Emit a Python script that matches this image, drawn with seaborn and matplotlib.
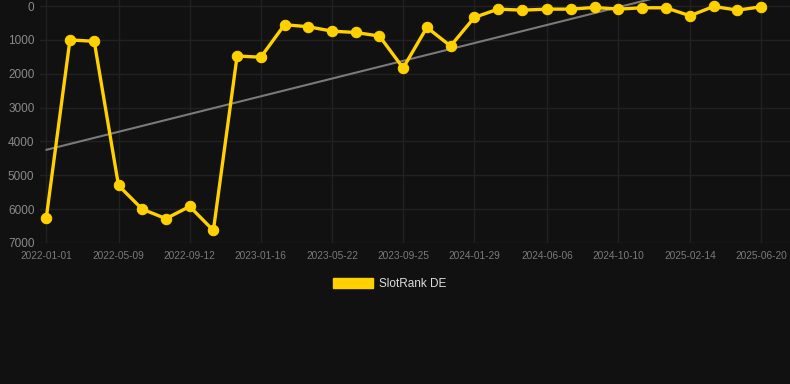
import pandas as pd
import numpy as np
import matplotlib
matplotlib.use("Agg")
import matplotlib.pyplot as plt
import matplotlib.dates as mdates
from matplotlib.patches import Patch
import seaborn as sns

# data
dates = ["2022-01-01", "2022-02-12", "2022-03-27", "2022-05-09", "2022-06-20", "2022-08-01",
         "2022-09-12", "2022-10-24", "2022-12-05", "2023-01-16", "2023-02-27", "2023-04-10",
         "2023-05-22", "2023-07-03", "2023-08-14", "2023-09-25", "2023-11-06", "2023-12-18",
         "2024-01-29", "2024-03-11", "2024-04-23", "2024-06-06", "2024-07-18", "2024-08-29",
         "2024-10-10", "2024-11-21", "2025-01-02", "2025-02-14", "2025-03-28", "2025-05-09",
         "2025-06-20"]
rank = [6270, 1000, 1040, 5300, 6000, 6280, 5920, 6630, 1475, 1510, 550, 610,
        740, 780, 885, 1830, 630, 1180, 335, 90, 120, 90, 90, 40,
        90, 50, 50, 285, 10, 120, 20]
tick_labels = dates[::3]
y_ticks = [0, 1000, 2000, 3000, 4000, 5000, 6000, 7000]
series_name = "SlotRank DE"

df = pd.DataFrame({"date": pd.to_datetime(dates), "rank": rank})

bg = "#111111"
yellow = "#FFD100"

sns.set_theme(style="dark")
plt.rcParams["font.family"] = ["Liberation Sans", "DejaVu Sans"]

fig = plt.figure(figsize=(7.9, 3.84), dpi=100, facecolor=bg)
ax = fig.add_axes([40 / 790, 1 - 243 / 384, 750 / 790, 243 / 384])
ax.set_facecolor(bg)

# trend line (least squares on the data)
xnum = mdates.date2num(df["date"])
k, b = np.polyfit(xnum, df["rank"], 1)
ax.plot(df["date"], k * xnum + b, color="#7a7a7a", lw=1.5, zorder=2)

sns.lineplot(data=df, x="date", y="rank", ax=ax, color=yellow, lw=2.4,
             marker="o", markersize=7.5, markeredgecolor=yellow, zorder=3)

ax.set_ylim(7000, -180)
ax.set_xlim(pd.Timestamp("2022-01-01") - pd.Timedelta(days=11),
            pd.Timestamp("2025-06-20") + pd.Timedelta(days=51))
ax.set_yticks(y_ticks)
ax.set_yticklabels([str(v) for v in y_ticks], fontsize=8.5, color="#8a8a8a")
ax.set_xticks(pd.to_datetime(tick_labels))
ax.set_xticklabels(tick_labels, fontsize=7.3, color="#7a7a7a")
ax.tick_params(axis="both", length=0, pad=6)
ax.tick_params(axis="y", pad=4)
ax.grid(True, color="#212121", lw=1)
ax.set_xlabel("")
ax.set_ylabel("")
for s in ax.spines.values():
    s.set_visible(False)

fig.legend(handles=[Patch(facecolor=yellow, edgecolor=yellow)], labels=[series_name],
           loc="center", bbox_to_anchor=(390 / 790, 1 - 284 / 384), frameon=False,
           fontsize=8.5, labelcolor="#dddddd", handlelength=3.4, handleheight=0.9,
           handletextpad=0.5)

fig.savefig("out.png", dpi=100, facecolor=bg)
